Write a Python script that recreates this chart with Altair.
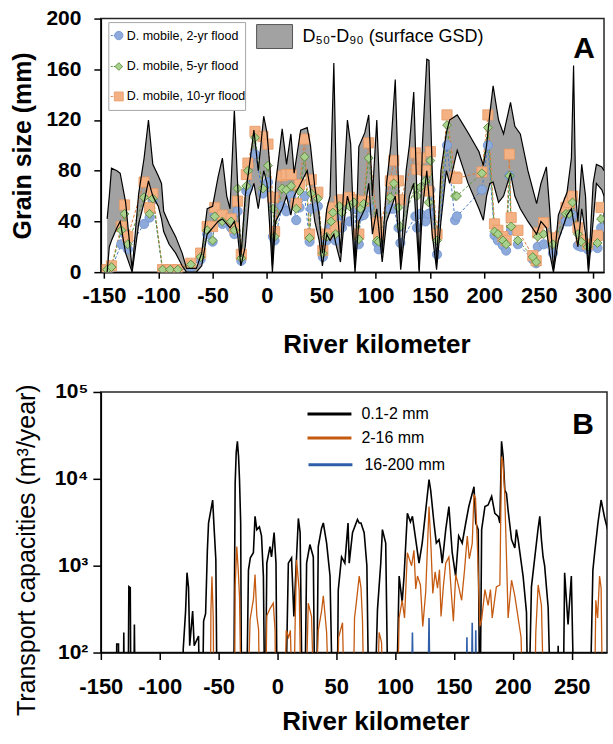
import altair as alt
import pandas as pd

FONT = "Liberation Sans"

# ---------------- Panel A: mobile grain size (markers) ----------------
mk_km = [-147, -143, -134, -131, -128, -113, -108, -105, -96, -89,
         -82, -70, -61, -55, -50, -48, -41, -33, -30, -27,
         -23.6, -19, -17.5, -11, -3.7, 0.9, 5.5, 7, 14, 17.7,
         22.3, 26.9, 30, 34.6, 39.2, 40.7, 46.8, 51.4, 55, 59,
         60.6, 63, 66.7, 69, 75.9, 80, 84.5, 86, 89, 93.6,
         101.3, 102.8, 113.5, 116.6, 121, 122.7, 136.5, 138, 141, 145.7,
         148.7, 150.3, 156.4, 165.6, 173, 174.7, 197.7, 203.2, 209.3, 212.4,
         217, 220, 223, 224.6, 230.8, 244.5, 247.6, 249, 254.5, 263,
         275, 278, 281, 286, 289, 295, 304, 307.3]
flood2 = [1, 3, 22, 30, 18, 38, 43, 57, 1, 1,
          1, 4, 10, 30, 24, 45, 38, 35, 30, 48,
          9, 64, 66, 93, 62, 71, 28, 25, 52, 48,
          60, 41, 51, 60, 24, 50, 52, 12, 25, 35,
          40, 25, 45, 35, 40, 50, 22, 44, 45, 51,
          23, 18, 50, 50, 35, 23, 44, 35, 46, 40,
          46, 65, 14, 100, 41, 44, 65, 100, 29, 25,
          21, 17, 76, 33, 22, 10, 7, 20, 22, 15,
          40, 40, 45, 21, 20, 18, 19, 35]
flood5 = [2, 4, 33, 46, 22, 59, 46, 58, 2, 2,
          2, 6, 12, 33, 25, 44, 40, 40, 33, 66,
          11, 68, 80, 106, 66, 84, 50, 28, 66, 65,
          68, 50, 64, 91, 27, 62, 58, 15, 28, 40,
          47, 30, 52, 47, 52, 55, 26, 50, 54, 90,
          25, 24, 59, 70, 51, 36, 67, 60, 67, 72,
          55, 88, 25, 116, 60, 60, 78, 114, 32, 30,
          25, 22, 76, 36, 25, 12, 8, 28, 30, 22,
          46, 46, 55, 30, 24, 20, 23, 42]
flood10 = [2, 5, 36, 53, 28, 71, 51, 62, 2, 2,
           2, 7, 15, 36, 36, 51, 45, 42, 35, 56,
           14, 77, 86, 111, 107, 101, 59, 32, 76, 77,
           77, 54, 69, 105, 30, 73, 63, 17, 30, 43,
           51, 36, 56, 57, 59, 57, 30, 54, 56, 102,
           39, 30, 72, 88, 72, 57, 94, 81, 90, 80,
           64, 95, 30, 124, 75, 74, 79, 124, 38, 33,
           28, 25, 93, 43, 33, 13, 9, 31, 39, 27,
           51, 55, 60, 35, 26, 22, 29, 51]

# ---------------- Panel A: surface GSD band (D50 - D90) ----------------
band_km = [-147, -145, -143, -138, -135, -130, -124, -118, -113, -109,
           -105, -100, -97, -95, -90, -84, -78, -74, -65, -60,
           -55, -50, -45, -41, -37, -34, -30, -27, -24, -20,
           -16, -12, -8, -3, 0, 3, 5, 8, 14, 18,
           22, 25, 31, 37, 40, 44, 48, 51, 55, 58,
           61.5, 64, 67.6, 71, 74, 77, 81, 84.5, 90, 93.6,
           97, 101, 106, 110, 114, 118, 121, 123, 128, 131,
           135, 140, 143, 147, 149, 152, 156, 160, 165, 168,
           175, 185, 195, 199, 202, 205, 208, 213, 217.6, 224,
           228, 233, 240, 248, 252, 257, 260, 263.5, 268, 276,
           280, 282, 284, 286, 289.5, 293, 295.7, 300, 303, 308,
           310]
d50 = [0, 20, 25, 35, 40, 15, 0, 38, 55, 72,
       60, 52, 42, 32, 22, 15, 5, 0, 0, 5,
       30, 35, 40, 42, 38, 35, 40, 30, 5, 20,
       60, 70, 50, 80, 70, 30, 0, 40, 50, 60,
       45, 60, 70, 80, 65, 40, 25, 5, 30, 25,
       30, 20, 8, 40, 60, 50, 0, 40, 50, 70,
       30, 50, 8, 40, 50, 60, 30, 2, 40, 60,
       70, 0, 50, 80, 60, 30, 2, 40, 80, 70,
       96, 70, 50, 41, 60, 70, 71, 55, 60, 78,
       60, 50, 40, 30, 40, 35, 15, 0, 25, 45,
       50, 40, 30, 20, 50, 30, 0, 40, 70, 65,
       60]
d90 = [42, 60, 82, 80, 78, 55, 2, 62, 90, 120,
       85, 76, 70, 48, 38, 28, 15, 3, 3, 15,
       50, 52, 75, 90, 60, 50, 128, 70, 12, 60,
       85, 112, 80, 123, 110, 80, 5, 70, 113, 85,
       109, 78, 112, 114, 100, 67, 45, 15, 50, 60,
       165, 60, 15, 75, 120, 101, 4, 99, 110, 124,
       60, 120, 15, 70, 100, 152, 70, 7, 80, 100,
       142, 2, 101, 168, 167, 80, 7, 80, 110, 120,
       124, 110, 95, 84, 100, 125, 147, 120, 109, 134,
       115, 109, 80, 54, 70, 83, 50, 2, 45, 63,
       90, 163, 60, 40, 85, 60, 2, 70, 85, 83,
       80]

# ---------------- Panel B: transport capacities (m3/year) ----------------
# values below 100 sit under the axis floor (10 = no transport)
fine_km = [-137, -136.5, -135, -134.5, -131, -130.5, -129.8, -127, -126.2, -125,
           -124.3, -122.3, -121.5, -120.5, -81, -80, -78, -76.8, -75.5, -74.5,
           -72, -70.7, -67, -65.5, -64, -62.7, -61, -59.5, -58.5, -56.5,
           -55, -53.7, -52.3, -51, -37.3, -35.9, -35, -34, -33, -32.2,
           -31.2, -30.3, -26.6, -24.6, -23, -20.4, -19, -17.5, -15.3, -13.5,
           -11.9, -10.5, -9, -6.3, -5, -2.8, -1.2, 0, 6.5, 9.3,
           12, 14, 15.5, 17.8, 19.3, 21.4, 23, 24.8, 27.6, 30.5,
           32, 33, 34.7, 37.5, 39, 41.8, 44.7, 47.4, 50.5, 51.7,
           54.5, 57.3, 60, 61, 63.8, 68, 69.5, 71, 73.7, 76,
           78, 82, 85, 87.8, 89.2, 92, 94.3, 100.5, 103.4, 106,
           107.6, 110.4, 113, 114.7, 117.5, 120.3, 123, 128.8, 130.2, 133,
           135, 137.3, 138.7, 140, 143, 145.7, 148.5, 151.4, 154, 157,
           160, 162.6, 167, 168.5, 170.6, 172, 173.5, 176.3, 179, 182,
           184.7, 187.6, 189, 190.4, 191.8, 193.2, 194.6, 196, 198.9, 201.7,
           203, 204.5, 208.7, 211.6, 213, 215.8, 218.6, 221.5, 222.9, 224.3,
           225.7, 227, 230, 232.8, 238, 238.5, 239.5, 242.5, 244, 246.9,
           249.7, 252.5, 265, 268, 269.5, 272.3, 275, 277.9, 280.5]
fine_val = [10, 125, 125, 10, 10, 170, 10, 10, 575, 560,
            10, 10, 210, 10, 10, 110, 300, 830, 560, 120,
            300, 120, 155, 10, 10, 230, 280, 1500, 3100, 4400,
            5700, 2600, 1170, 10, 10, 8900, 20000, 27000, 18000, 9800,
            3100, 10, 10, 890, 1230, 1410, 3700, 2600, 2800, 2200,
            760, 10, 1070, 1660, 1260, 2400, 1070, 10, 10, 1070,
            1230, 260, 760, 3500, 2400, 10, 10, 1070, 1750, 1260,
            10, 10, 1660, 2700, 3100, 1820, 760, 10, 10, 525,
            1260, 1070, 3100, 1070, 2400, 3400, 3100, 3100, 2400, 1000,
            10, 10, 310, 1070, 2600, 1820, 10, 10, 760, 380,
            760, 4000, 3200, 3700, 2000, 1070, 1820, 9800, 7400, 3100,
            1820, 1990, 1550, 1070, 2600, 4800, 1410, 760, 2200, 1820,
            3100, 4800, 8100, 3100, 2600, 10, 2600, 4800, 5000, 6300,
            4000, 3700, 3100, 27000, 18000, 7400, 6800, 4300, 2000, 1600,
            2600, 2000, 760, 290, 10, 570, 1230, 2700, 3700, 1990,
            1260, 1000, 330, 10, 10, 120, 10, 10, 830, 210,
            760, 10, 10, 890, 1410, 3100, 5700, 3600, 2600]

mid_km = [-57, -56.5, -55.6, -54.5, -53.8, -36.5, -35.9, -34.5, -33.3, -32.2,
          -30.3, -26, -23.2, -20.4, -19, -17.5, -16, -14.7, -10.5, -9,
          -6.3, -3.5, -2, -1.2, 5.5, 7.5, 9.5, 11, 13.5, 15,
          16.3, 18.5, 20.6, 23.5, 26.2, 29, 31.8, 34.7, 37.5, 39,
          41.8, 44.7, 50.5, 52, 55.3, 57.5, 64, 65.5, 67, 69.5,
          71, 72.3, 74, 84, 86.4, 88.5, 90, 101.5, 103.4, 106,
          108, 110.4, 112, 114, 116, 117.5, 119, 121.5, 123.5, 126,
          128.8, 130.5, 132, 134, 136, 137.7, 139, 141, 143, 145.7,
          147.5, 149.5, 151.5, 154, 156.5, 159, 161.3, 163, 165.5, 167,
          168.3, 169.7, 172, 173.5, 176.3, 179, 181, 182.5, 186, 189,
          190.4, 191.5, 193, 194.5, 196, 198.9, 201.7, 204.5, 207, 209,
          218, 219.5, 221.5, 224.3, 227, 269, 270.5, 272, 273.7, 275,
          276.5]
mid_val = [10, 300, 750, 250, 10, 10, 570, 1660, 900, 445,
           10, 10, 240, 410, 790, 265, 185, 10, 10, 265,
           320, 370, 180, 10, 10, 180, 150, 180, 10, 200,
           1170, 520, 10, 10, 370, 260, 10, 180, 300, 450,
           170, 10, 10, 150, 220, 10, 10, 250, 370, 760,
           560, 230, 10, 10, 170, 130, 10, 10, 250, 400,
           250, 1410, 1200, 1000, 1500, 540, 760, 600, 200, 500,
           4800, 1600, 480, 850, 550, 900, 260, 580, 1070, 1260,
           540, 230, 790, 570, 400, 900, 2200, 1200, 1800, 6600,
           6000, 2000, 200, 240, 530, 350, 530, 250, 570, 600,
           18000, 16000, 7400, 1410, 250, 680, 450, 250, 150, 10,
           10, 170, 600, 350, 10, 10, 400, 250, 760, 550,
           10]

coarse_km = [113.5, 114.7, 116, 127.5, 128.8, 130, 160, 161, 162, 164.5,
             165.5, 166.5, 167.8, 168.5, 169.5]
coarse_val = [10, 170, 10, 10, 250, 10, 10, 150, 10, 10,
              220, 10, 10, 180, 10]

# ---------------- data frames ----------------
dfA = pd.DataFrame({"km": mk_km, "f2": flood2, "f5": flood5, "f10": flood10})
dfBand = pd.DataFrame({"km": band_km, "d50": d50, "d90": d90})
dfFine = pd.DataFrame({"km": fine_km, "v": fine_val})
dfMid = pd.DataFrame({"km": mid_km, "v": mid_val})
dfCoarse = pd.DataFrame({"km": coarse_km, "v": coarse_val})
one = pd.DataFrame({"d": [0]})

BAND_GRAY = "#a2a2a2"
BLUE_F, BLUE_S, BLUE_L = "#8eaadb", "#6f93d0", "#4a7cc9"
GREEN_F, GREEN_S, GREEN_L = "#a9d18e", "#4f7f2f", "#5a9a3a"
ORANGE_F, ORANGE_S, ORANGE_L = "#f4b183", "#e69a66", "#e07b39"
PLAIN = "'' + datum.value"

# ---------------- axes ----------------
axA_x = alt.Axis(values=list(range(-150, 301, 50)), title="River kilometer", grid=False,
                 labelExpr=PLAIN, labelFont=FONT, labelFontSize=22, labelFontWeight="bold",
                 labelPadding=7, labelFlush=False, labelOverlap=False, tickSize=6,
                 titleFont=FONT, titleFontSize=26, titleFontWeight="bold",
                 titlePadding=25, titleX=276)
axA_y = alt.Axis(values=[0, 40, 80, 120, 160, 200], title="Grain size (mm)", grid=False,
                 labelExpr=PLAIN, labelFont=FONT, labelFontSize=21, labelFontWeight="bold",
                 labelPadding=13, labelFlush=False, labelOverlap=False, tickSize=7,
                 titleFont=FONT, titleFontSize=25, titleFontWeight="bold", titlePadding=10)

xA = lambda: alt.X("km:Q", scale=alt.Scale(domain=[-152.8, 310], nice=False, zero=False), axis=axA_x)
yA = lambda f: alt.Y(f"{f}:Q", scale=alt.Scale(domain=[0, 200], nice=False, zero=False), axis=axA_y)

A_W, A_H = 504, 254

band_area = alt.Chart(dfBand).mark_area(color=BAND_GRAY, opacity=1, clip=True).encode(
    x=xA(), y=yA("d50"), y2="d90:Q")
band_lo = alt.Chart(dfBand).mark_line(color="black", strokeWidth=1.2, clip=True).encode(x=xA(), y=yA("d50"))
band_hi = alt.Chart(dfBand).mark_line(color="black", strokeWidth=1.2, clip=True).encode(x=xA(), y=yA("d90"))


def series(field, shape, fill, stroke, lcol, size):
    ln = alt.Chart(dfA).mark_line(color=lcol, strokeWidth=1, strokeDash=[3, 2], clip=True).encode(
        x=xA(), y=yA(field))
    pt = alt.Chart(dfA).mark_point(shape=shape, filled=True, fill=fill, stroke=stroke, strokeWidth=0.8,
                                   size=size, opacity=1, clip=True).encode(x=xA(), y=yA(field))
    return ln, pt


l2, p2 = series("f2", "circle", BLUE_F, BLUE_S, BLUE_L, 85)
l10, p10 = series("f10", "square", ORANGE_F, ORANGE_S, ORANGE_L, 105)
l5, p5 = series("f5", "diamond", GREEN_F, GREEN_S, GREEN_L, 80)


def txt(x, y, s, size=12.5, font=FONT, weight="normal", align="left"):
    return alt.Chart(one).mark_text(text=s, font=font, fontSize=size, fontWeight=weight, align=align,
                                    baseline="middle", color="black").encode(x=alt.value(x), y=alt.value(y))


def rule(x1, x2, y, color, width=1, dash=None):
    kw = dict(color=color, strokeWidth=width)
    if dash:
        kw["strokeDash"] = dash
    return alt.Chart(one).mark_rule(**kw).encode(x=alt.value(x1), x2=alt.value(x2), y=alt.value(y))


def sym(x, y, shape, fill, stroke, size):
    return alt.Chart(one).mark_point(shape=shape, filled=True, fill=fill, stroke=stroke, strokeWidth=0.8,
                                     size=size, opacity=1).encode(x=alt.value(x), y=alt.value(y))


legA_box = alt.Chart(one).mark_rect(fill="white", stroke="#a6a6a6", strokeWidth=1).encode(
    x=alt.value(8), x2=alt.value(145), y=alt.value(4), y2=alt.value(92))
legA = [legA_box,
        rule(10, 22, 17, BLUE_L, 1, [2, 1]), sym(18, 17, "circle", BLUE_F, BLUE_S, 70),
        txt(26, 17, "D. mobile, 2-yr flood"),
        rule(10, 22, 48, GREEN_L, 1, [2, 1]), sym(18, 48, "diamond", GREEN_F, GREEN_S, 60),
        txt(26, 48, "D. mobile, 5-yr flood"),
        rule(10, 22, 78, ORANGE_L, 1, [2, 1]), sym(18, 78, "square", ORANGE_F, ORANGE_S, 80),
        txt(26, 78, "D. mobile, 10-yr flood")]
gsd_box = alt.Chart(one).mark_rect(fill=BAND_GRAY, stroke="#555555", strokeWidth=1).encode(
    x=alt.value(156), x2=alt.value(192), y=alt.value(6), y2=alt.value(30))
legA += [gsd_box, txt(202, 18, "D₅₀-D₉₀ (surface GSD)", size=18),
         txt(484, 30, "A", size=30, weight="bold", align="center")]

panelA = alt.layer(band_area, l2, l10, l5, p2, p10, p5, band_lo, band_hi, *legA).properties(
    width=A_W, height=A_H)

# ---------------- Panel B ----------------
axB_x = alt.Axis(values=list(range(-150, 251, 50)), title="River kilometer", grid=False,
                 labelExpr=PLAIN, labelFont=FONT, labelFontSize=22, labelFontWeight="bold",
                 labelPadding=17, labelFlush=False, labelOverlap=False, tickSize=7,
                 titleFont=FONT, titleFontSize=26, titleFontWeight="bold",
                 titlePadding=11, titleX=275)
axB_y = alt.Axis(values=[100, 1000, 10000, 100000],
                 labelExpr="datum.value == 100 ? '10²' : datum.value == 1000 ? '10³' : datum.value == 10000 ? '10⁴' : '10⁵'",
                 title="Transport capacities (m³/year)", grid=False,
                 labelFont=FONT, labelFontSize=21, labelFontWeight="bold", labelPadding=5,
                 labelFlush=False, labelOverlap=False, tickSize=8,
                 titleFont=FONT, titleFontSize=25, titleFontWeight="normal", titlePadding=15,
                 titleY=158)

xB = lambda: alt.X("km:Q", scale=alt.Scale(domain=[-150, 280], nice=False, zero=False), axis=axB_x)
yB = lambda: alt.Y("v:Q", scale=alt.Scale(type="log", domain=[100, 100000], nice=False), axis=axB_y)

lineFine = alt.Chart(dfFine).mark_line(color="black", strokeWidth=1.6, clip=True).encode(x=xB(), y=yB())
lineMid = alt.Chart(dfMid).mark_line(color="#c55a11", strokeWidth=1.3, clip=True).encode(x=xB(), y=yB())
lineCoarse = alt.Chart(dfCoarse).mark_line(color="#2f5fa8", strokeWidth=1.6, clip=True).encode(x=xB(), y=yB())

legB = [rule(207, 251, 22, "black", 3), txt(261, 22, "0.1-2 mm", size=16),
        rule(207, 251, 46, "#c55a11", 3), txt(261, 46, "2-16 mm", size=16),
        rule(208, 252, 73, "#2f5fa8", 3), txt(264, 73, "16-200 mm", size=16),
        txt(483, 33, "B", size=30, weight="bold", align="center")]

panelB = alt.layer(lineFine, lineMid, lineCoarse, *legB).properties(width=507, height=261)

chart = alt.vconcat(panelA, panelB, spacing=22).properties(
    padding={"left": 10, "top": 6, "right": 0, "bottom": 0}
).configure_view(stroke="#262626", strokeWidth=1.5).configure_axis(
    domainColor="black", domainWidth=1.5, tickColor="black", tickWidth=1.5,
    labelColor="black", titleColor="black")

chart.save("out.html", embed_options={"renderer": "svg", "actions": False})
